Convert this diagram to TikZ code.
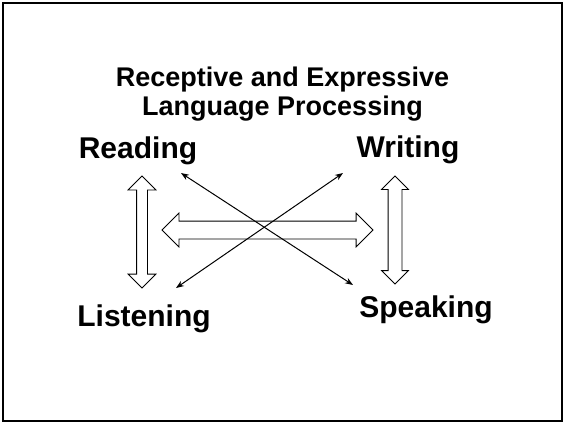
\documentclass[tikz,border=0pt]{standalone}
\usepackage{fontspec}
\setmainfont{Liberation Sans}
\usetikzlibrary{arrows.meta,shapes.arrows}
\tikzset{
  label/.style={font=\fontsize{30}{36}\selectfont\bfseries,anchor=base,inner sep=0pt},
  heading/.style={font=\fontsize{27}{32}\selectfont\bfseries,anchor=base,inner sep=0pt},
  hollow/.style={draw,double arrow,line width=0.8pt,fill=white,inner xsep=0pt,double arrow tip angle=90},
  thin/.style={line width=1pt,{Stealth[length=8pt,width=6pt]}-{Stealth[length=8pt,width=6pt]}}
}
\begin{document}
\begin{tikzpicture}[x=1pt,y=-1pt]
        \useasboundingbox (0,0) rectangle (565,424);
        \draw[line width=2pt] (3,3) rectangle (562,421);
        %% title
        \node[heading] (title1) at (282.5,86) {Receptive and Expressive};
        \node[heading] (title2) at (282.5,115) {Language Processing};
        %% the four skills
        \node[label] (reading) at (138,158) {Reading};
        \node[label] (writing) at (408,157) {Writing};
        \node[label] (listening) at (144,326) {Listening};
        \node[label] (speaking) at (426,317) {Speaking};
        %% hollow arrows
        \node[hollow,rotate=90,minimum height=112pt,inner ysep=5pt,double arrow head extend=8.5pt] (rl) at (142,232) {};
        \node[hollow,rotate=90,minimum height=108pt,inner ysep=6.5pt,double arrow head extend=6.5pt] (ws) at (395,230) {};
        \node[hollow,minimum height=211pt,inner ysep=8.5pt,double arrow head extend=8pt] (mid) at (267.5,230) {};
        %% crossing arrows
        \coordinate (rd) at (181,173);
        \coordinate (sp) at (353,285);
        \coordinate (wr) at (343,173);
        \coordinate (ls) at (176,288);
        \draw[thin] (rd) -- (sp);
        \draw[thin] (wr) -- (ls);
    \end{tikzpicture}
\end{document}
